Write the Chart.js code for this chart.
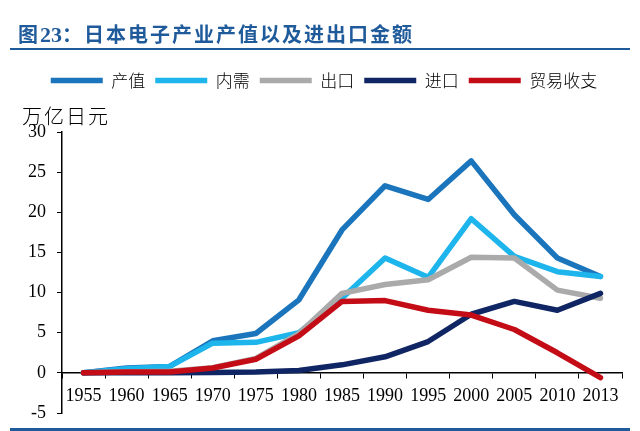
<!DOCTYPE html>
<html>
<head>
<meta charset="utf-8">
<script src="https://cdn.jsdelivr.net/npm/chart.js@4.4.0/dist/chart.umd.min.js"></script>
<style>
    body { margin: 0; background: #fff; }
    #wrap { position: relative; width: 640px; height: 431px; overflow: hidden; }
    #title {
        position: absolute; left: 18px; top: 19px;
        font: bold 20px "Noto Sans CJK SC", sans-serif;
        letter-spacing: 2px; color: #1f5a9a; white-space: nowrap;
    }
    #title .num { font-family: "Liberation Serif", serif; font-size: 22px; letter-spacing: 0; }
    .rule { position: absolute; left: 10px; width: 620px; height: 2px; background: #1f5a9a; }
    #unit {
        position: absolute; left: 22px; top: 101px;
        font: 300 20px "Noto Sans CJK SC", sans-serif; letter-spacing: 2px; color: #000;
    }
    canvas { position: absolute; left: 0; top: 0; }
</style>
</head>
<body>
<div id="wrap">
    <canvas id="myChart" width="640" height="431"></canvas>
    <div id="title">图<span class="num">23</span>：日本电子产业产值以及进出口金额</div>
    <div class="rule" style="top:48px"></div>
    <div id="unit">万亿日元</div>
    <div class="rule" style="top:428px;height:3px"></div>
</div>
<script>
const years = ['1955', '1960', '1965', '1970', '1975', '1980', '1985', '1990', '1995', '2000', '2005', '2010', '2013'];
const production = [0, 0.6, 0.8, 4.0, 4.9, 9.1, 17.8, 23.3, 21.6, 26.4, 19.7, 14.3, 12.0]; // 产值
const domestic = [0, 0.5, 0.8, 3.7, 3.8, 5.0, 9.3, 14.3, 11.9, 19.2, 14.5, 12.6, 12.0]; // 内需
const exports = [0, 0.1, 0.2, 0.65, 1.8, 4.9, 9.9, 11.0, 11.6, 14.4, 14.3, 10.3, 9.3]; // 出口
const imports = [0, 0, 0, 0.05, 0.1, 0.3, 1.0, 2.0, 3.9, 7.3, 8.9, 7.8, 9.9]; // 进口
const balance = [0, 0.1, 0.1, 0.6, 1.7, 4.6, 8.9, 9.0, 7.8, 7.2, 5.4, 2.5, -0.6]; // 贸易收支
const yTicks = [-5, 0, 5, 10, 15, 20, 25, 30];

function line(label, data, color, order) {
    return {
        label: label,
        data: data,
        borderColor: color,
        backgroundColor: color,
        borderWidth: 5.5,
        borderCapStyle: 'round',
        borderJoinStyle: 'round',
        pointRadius: 0,
        pointStyle: 'line',
        tension: 0,
        order: order
    };
}

const ctx = document.getElementById('myChart').getContext('2d');
const myChart = new Chart(ctx, {
    type: 'line',
    data: {
        labels: years,
        datasets: [
            line('产值', production, 'rgb(27,117,188)', 4),
            line('内需', domestic, 'rgb(30,180,236)', 3),
            line('出口', exports, 'rgb(170,170,170)', 2),
            line('进口', imports, 'rgb(16,37,99)', 1),
            line('贸易收支', balance, 'rgb(196,12,22)', 0)
        ]
    },
    options: {
        responsive: false,
        animation: false,
        layout: {
            padding: { top: 62, left: 26, right: 18, bottom: 18 }
        },
        scales: {
            x: {
                position: { y: 0 },
                offset: true,
                grid: {
                    offset: true,
                    drawOnChartArea: false,
                    drawTicks: true,
                    tickLength: 5,
                    color: '#000'
                },
                border: { display: true, color: '#000', width: 1.5 },
                ticks: {
                    color: '#000',
                    font: { family: 'Liberation Serif', size: 18 },
                    padding: 8,
                    maxRotation: 0,
                    autoSkip: false
                }
            },
            y: {
                min: -5,
                max: 30,
                afterFit: function (scale) {
                    scale.width = 36;
                    scale.paddingBottom = 0;
                },
                afterBuildTicks: function (scale) {
                    scale.ticks = yTicks.map(v => ({ value: v }));
                },
                grid: {
                    drawOnChartArea: false,
                    drawTicks: true,
                    tickLength: 5,
                    color: '#000'
                },
                border: { display: true, color: '#000', width: 1.5 },
                ticks: {
                    color: '#000',
                    font: { family: 'Liberation Serif', size: 18 },
                    padding: 11
                }
            }
        },
        plugins: {
            legend: {
                display: true,
                position: 'top',
                labels: {
                    usePointStyle: true,
                    pointStyleWidth: 52,
                    boxHeight: 5,
                    padding: 10,
                    color: '#000',
                    font: { family: 'Noto Sans CJK SC', size: 17, weight: '300' },
                    sort: (a, b) => a.datasetIndex - b.datasetIndex
                }
            },
            // empty title below the legend, only used as a gap for the unit label
            title: {
                display: true,
                text: ' ',
                weight: 500,
                font: { size: 12, lineHeight: 1 },
                padding: { top: 0, bottom: 21 }
            },
            tooltip: { enabled: false }
        }
    }
});
</script>
</body>
</html>
